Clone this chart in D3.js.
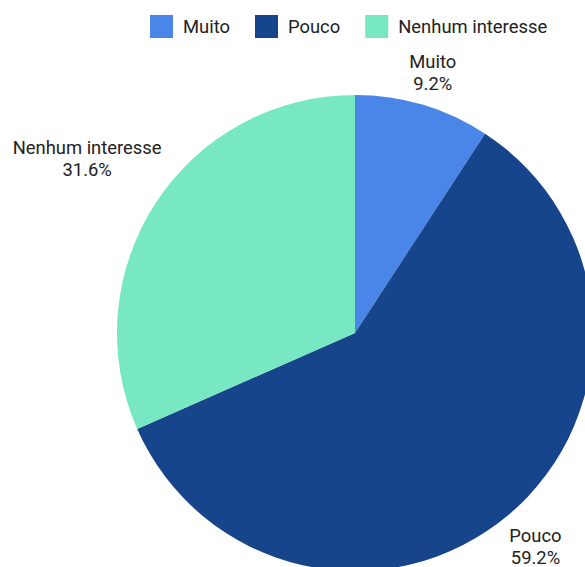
<!DOCTYPE html>
<html>
<head>
<meta charset="utf-8">
<script src="https://cdn.jsdelivr.net/npm/d3@7"></script>
<style>
  html, body { margin: 0; padding: 0; background: #fff; }
  svg { display: block; overflow: hidden; }
  text { font-family: Roboto, "Noto Sans", sans-serif; fill: #222; }
</style>
</head>
<body>
<svg id="chart" width="585" height="567"></svg>
<script>
// Interest levels and their shares (%)
const categories = ["Muito", "Pouco", "Nenhum interesse"];
const shares = [9.2, 59.2, 31.6];
const colors = ["#4a86e8", "#16458b", "#78e8c3"];

const W = 585, H = 567;
const cx = 355, cy = 333, radius = 238;
const fontSize = 18.4;

const svg = d3.select("#chart");

const data = categories.map((c, i) => ({ name: c, value: shares[i], color: colors[i] }));

const pie = d3.pie().sort(null).value(d => d.value);
const arc = d3.arc().innerRadius(0).outerRadius(radius);
const arcs = pie(data);

const g = svg.append("g").attr("transform", `translate(${cx},${cy})`);

g.selectAll("path.slice")
  .data(arcs)
  .join("path")
  .attr("class", "slice")
  .attr("d", arc)
  .attr("fill", d => d.data.color);

// Outside labels: name + percentage, pushed out along the mid-angle
const labels = g.selectAll("g.label")
  .data(arcs)
  .join("g")
  .attr("class", "label");

labels.each(function(d) {
  const sel = d3.select(this);
  const t1 = sel.append("text")
    .attr("text-anchor", "middle")
    .attr("font-size", fontSize)
    .text(d.data.name);
  const t2 = sel.append("text")
    .attr("text-anchor", "middle")
    .attr("font-size", fontSize)
    .text(d.data.value.toFixed(1) + "%");
  const hw = Math.max(t1.node().getComputedTextLength(), t2.node().getComputedTextLength()) / 2;
  const hh = 21;
  const a = (d.startAngle + d.endAngle) / 2;
  const s = Math.sin(a), c = Math.cos(a);
  const r = radius + 8 + Math.abs(s) * hw + Math.abs(c) * hh;
  const x = r * s, y = -r * c;
  t1.attr("x", x).attr("y", y - 4);
  t2.attr("x", x).attr("y", y + 18);
});

// Legend along the top
const legend = svg.append("g").attr("class", "legend");
let lx = 150;
const box = 23, ly = 15;
data.forEach(d => {
  legend.append("rect")
    .attr("x", lx).attr("y", ly)
    .attr("width", box).attr("height", box)
    .attr("fill", d.color);
  const t = legend.append("text")
    .attr("x", lx + box + 10)
    .attr("y", ly + 18)
    .attr("font-size", fontSize)
    .text(d.name);
  lx += box + 10 + t.node().getComputedTextLength() + 25;
});
</script>
</body>
</html>
